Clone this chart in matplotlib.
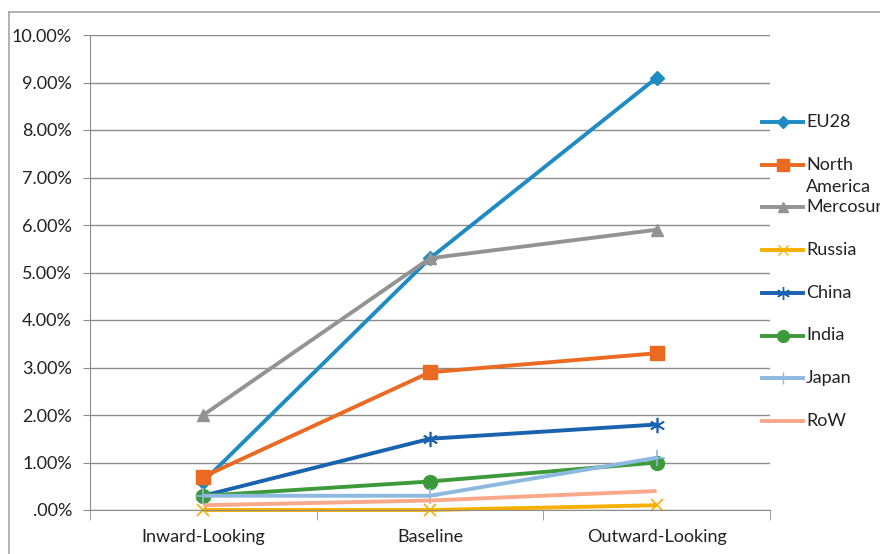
import numpy as np
import matplotlib.pyplot as plt
from matplotlib.lines import Line2D

plt.rcParams['font.family'] = ['Lato', 'DejaVu Sans']

# data (percent)
scenarios = ["Inward-Looking", "Baseline", "Outward-Looking"]
eu28 = [0.6, 5.3, 9.1]
north_america = [0.7, 2.9, 3.3]
mercosur = [2.0, 5.3, 5.9]
russia = [0.0, 0.0, 0.1]
china = [0.3, 1.5, 1.8]
india = [0.3, 0.6, 1.0]
japan = [0.3, 0.3, 1.1]
row = [0.1, 0.2, 0.4]
y_ticks = [0, 1, 2, 3, 4, 5, 6, 7, 8, 9, 10]

series = [
    ("EU28", eu28, "#1E8BC3", "D", 7),
    ("North\nAmerica", north_america, "#EA6A22", "s", 10),
    ("Mercosur", mercosur, "#939393", "^", 9),
    ("Russia", russia, "#F5B000", "x", 9),
    ("China", china, "#1862AE", (6, 2, 0), 11),
    ("India", india, "#3C9A3A", "o", 10),
    ("Japan", japan, "#8DB9E1", "+", 11),
    ("RoW", row, "#F9A88A", None, 0),
]

fig = plt.figure(figsize=(8.8, 5.54), dpi=100)
W, H = 880, 554
ax = fig.add_axes([90 / W, 1 - 510 / H, 680 / W, 475 / H])

x = np.arange(len(scenarios))
for name, vals, col, mk, ms in series:
    mew = 1.2 if mk in ("x", "+", (6, 2, 0)) else 1
    ax.plot(x, vals, color=col, lw=2.8, marker=mk, markersize=ms,
            markeredgewidth=mew, solid_capstyle="butt", clip_on=False)

ax.set_xlim(-0.5, 2.5)
ax.set_ylim(0, 10)
ax.set_yticks(y_ticks)
ax.set_yticklabels([(f"{v:.2f}%" if v else ".00%") for v in y_ticks])
ax.set_xticks(x)
ax.set_xticklabels(scenarios)
ax.set_xticks([-0.5, 0.5, 1.5, 2.5], minor=True)
ax.tick_params(axis="x", which="major", length=0, pad=14, labelsize=13, colors="#222222")
ax.tick_params(axis="x", which="minor", length=7, color="#8c8c8c", direction="out")
ax.tick_params(axis="y", length=5, color="#8c8c8c", labelsize=13, pad=8)
ax.tick_params(axis="y", colors="#8c8c8c", labelcolor="#222222")
ax.grid(axis="y", color="#8c8c8c", lw=1)
ax.set_axisbelow(True)
for s in ("top", "right"):
    ax.spines[s].set_visible(False)
ax.spines["left"].set_color("#8c8c8c")
ax.spines["bottom"].set_color("#8c8c8c")

# outer chart border
fig.add_artist(Line2D([9 / W, 1], [1 - 12 / H, 1 - 12 / H], color="#a6a6a6", lw=1.2))
fig.add_artist(Line2D([9 / W, 9 / W], [0, 1 - 12 / H], color="#a6a6a6", lw=1.2))

# legend on the right (Mercosur runs off the edge as in the original)
for i, (name, vals, col, mk, ms) in enumerate(series):
    yy = 1 - (122 + i * 42.7) / H
    fig.add_artist(Line2D([762 / W, 803 / W], [yy, yy], color=col, lw=2.8))
    if mk is not None:
        fig.add_artist(Line2D([782.5 / W], [yy], color=col, marker=mk,
                              markersize=ms * 0.85, markeredgewidth=1))
    if "\n" in name:
        fig.text(806 / W, yy + 8 / H, name, va="top", fontsize=13,
                 color="#222222", linespacing=1.45)
    else:
        fig.text(806 / W, yy, name, va="center", fontsize=13, color="#222222")

fig.savefig("out.png", dpi=100)
